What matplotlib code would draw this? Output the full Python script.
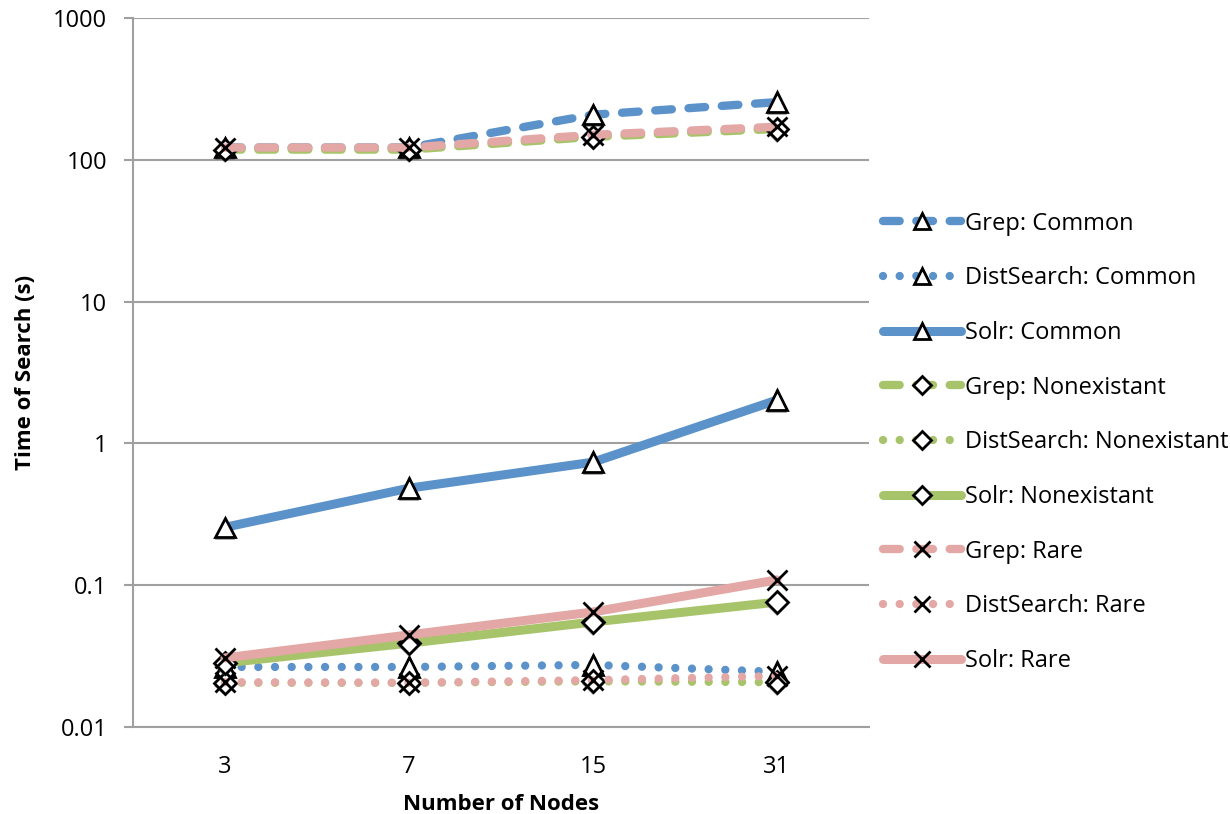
import matplotlib
matplotlib.use("Agg")
import matplotlib.pyplot as plt
import matplotlib.patheffects as pe

plt.rcParams['font.family'] = ['Open Sans', 'DejaVu Sans']
plt.rcParams['lines.scale_dashes'] = False

nodes = ["3", "7", "15", "31"]

# time of search in seconds
grep_common = [122, 122, 208, 255]
dist_common = [0.0265, 0.0265, 0.0274, 0.0245]
solr_common = [0.256, 0.483, 0.737, 2.02]
grep_nonex = [118, 118, 145, 165]
dist_nonex = [0.0205, 0.0205, 0.021, 0.0207]
solr_nonex = [0.0283, 0.039, 0.055, 0.076]
grep_rare = [122, 122, 150, 171]
dist_rare = [0.0207, 0.0205, 0.0214, 0.0229]
solr_rare = [0.0307, 0.0446, 0.0647, 0.109]

blue = '#5B92CA'
green = '#A8C46A'
pink = '#E3A7A5'

dashed = (0, (12, 12))
dotted = (0, (0.01, 12))

series = [
    ("Grep: Common", grep_common, blue, dashed, '^'),
    ("DistSearch: Common", dist_common, blue, dotted, '^'),
    ("Solr: Common", solr_common, blue, '-', '^'),
    ("Grep: Nonexistant", grep_nonex, green, dashed, 'D'),
    ("DistSearch: Nonexistant", dist_nonex, green, dotted, 'D'),
    ("Solr: Nonexistant", solr_nonex, green, '-', 'D'),
    ("Grep: Rare", grep_rare, pink, dashed, 'x'),
    ("DistSearch: Rare", dist_rare, pink, dotted, 'x'),
    ("Solr: Rare", solr_rare, pink, '-', 'x'),
]

fig = plt.figure(figsize=(12.3, 8.14), dpi=100)
ax = fig.add_axes([0.1081, 0.1069, 0.5984, 0.871])

xs = range(len(nodes))
shadow = [pe.SimplePatchShadow(offset=(0, -2), shadow_rgbFace='#555555', alpha=0.5), pe.Normal()]
handles = []
for label, vals, color, ls, mk in series:
    lw = 6.5 if ls == '-' else 6
    ax.plot(xs, vals, color=color, linestyle=ls, linewidth=lw,
            dash_capstyle='round', solid_capstyle='round')
    msize = 11 if mk == 'D' else 14
    ax.plot(xs, vals, linestyle='none', marker=mk, markersize=msize,
            markerfacecolor='white', markeredgecolor='black', markeredgewidth=2,
            path_effects=shadow)
    h, = ax.plot([], [], color=color, linestyle=ls, linewidth=lw,
                 dash_capstyle='round', solid_capstyle='round', marker=mk,
                 markersize=msize * 0.85, markerfacecolor='white',
                 markeredgecolor='black', markeredgewidth=2)
    handles.append((h, label))

ax.set_yscale('log')
ax.set_ylim(0.01, 1000)
ax.set_xlim(-0.5, len(nodes) - 0.5)
ax.set_xticks(list(xs))
ax.set_xticklabels(nodes)
ax.set_yticks([0.01, 0.1, 1, 10, 100, 1000])
ax.set_yticklabels(["0.01", "0.1", "1", "10", "100", "1000"])
ax.minorticks_off()
ax.grid(axis='y', color='#A0A0A0', linewidth=1.5)
ax.set_axisbelow(True)
for s in ['top', 'right']:
    ax.spines[s].set_visible(False)
for s in ['left', 'bottom']:
    ax.spines[s].set_color('#A0A0A0')
    ax.spines[s].set_linewidth(1.5)
ax.tick_params(axis='y', length=6.5, width=1.5, color='#A0A0A0', pad=12, labelsize=17)
ax.tick_params(axis='x', length=0, pad=20, labelsize=17)

ax.set_xlabel("Number of Nodes", fontsize=16, fontweight='bold', labelpad=11)
ax.set_ylabel("Time of Search (s)", fontsize=16, fontweight='bold', labelpad=12)

leg = ax.legend([h for h, _ in handles], [l for _, l in handles],
                loc='upper left', bbox_to_anchor=(1.0, 0.747), frameon=False,
                fontsize=17, handlelength=3.3, labelspacing=1.3,
                handletextpad=0.15, borderaxespad=0.2)

fig.savefig("out.png", dpi=100)
